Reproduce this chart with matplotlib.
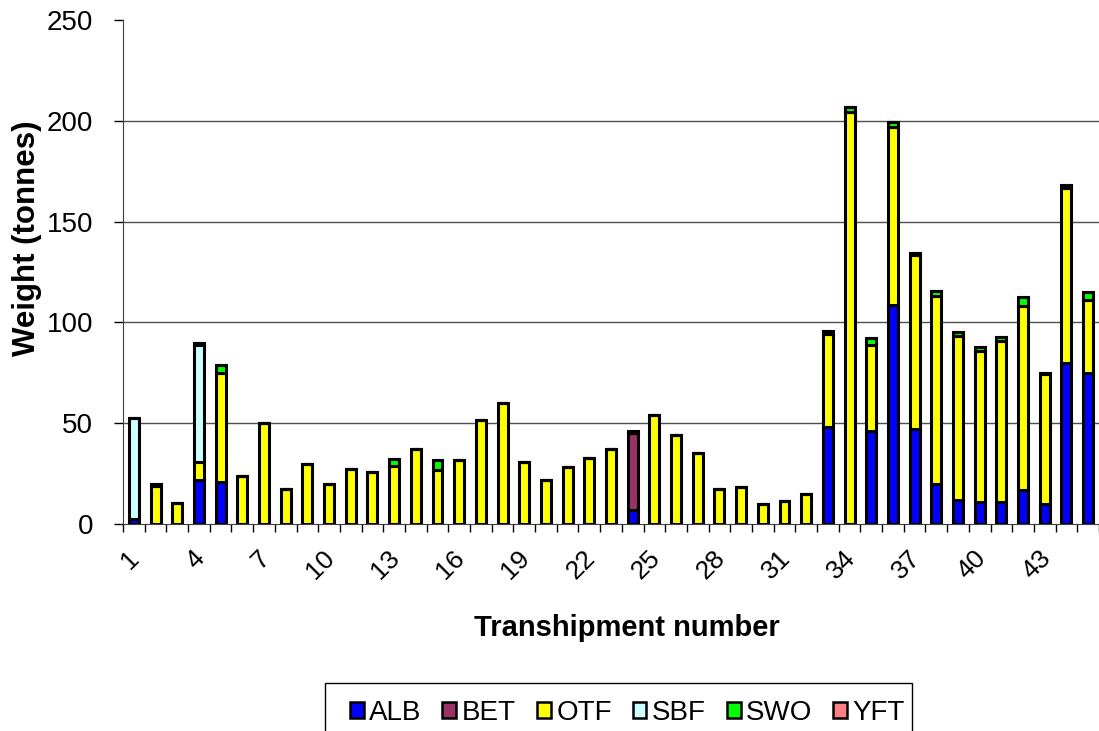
import numpy as np
import matplotlib
matplotlib.use("Agg")
import matplotlib.pyplot as plt
from matplotlib.patches import Patch, Rectangle

plt.rcParams['font.family'] = ['Liberation Sans', 'DejaVu Sans']

# transhipment numbers 1..45
shipments = list(range(1, 46))
tick_labels = [str(k) for k in range(1, 46, 3)]

species = ['ALB', 'BET', 'OTF', 'SBF', 'SWO', 'YFT']

ALB = [2.5, 0, 0, 22, 21, 0, 0, 0, 0, 0,
       0, 0, 0, 0, 0, 0, 0, 0, 0, 0,
       0, 0, 0, 7, 0, 0, 0, 0, 0, 0,
       0, 0, 48, 0, 46, 108.5, 47, 20, 11.7, 11,
       11, 17, 10, 80, 75]
BET = [0, 0, 0, 0, 0, 0, 0, 0, 0, 0,
       0, 0, 0, 0, 0, 0, 0, 0, 0, 0,
       0, 0, 0, 38, 0, 0, 0, 0, 0, 0,
       0, 0, 0, 0, 0, 0, 0, 0, 0, 0,
       0, 0, 0, 0, 0]
OTF = [0, 19, 10.5, 9, 54, 24, 50, 17.4, 30, 20,
       27.4, 25.7, 29, 37.3, 27, 31.5, 51.8, 60, 30.9, 21.6,
       28.5, 32.5, 37.3, 0, 54, 43.9, 35, 17.5, 18.5, 9.7,
       11.3, 15, 46, 204.5, 43, 88.5, 86.5, 93, 81.5, 74.7,
       80, 91.3, 64.5, 86.5, 36]
SBF = [50, 0, 0, 58, 0, 0, 0, 0, 0, 0,
       0, 0, 0, 0, 0, 0, 0, 0, 0, 0,
       0, 0, 0, 0, 0, 0, 0, 0, 0, 0,
       0, 0, 0, 0, 0, 0, 0, 0, 0, 0,
       0, 0, 0, 0, 0]
SWO = [0, 1, 0, 1, 4, 0, 0, 0, 0, 0,
       0, 0, 3.3, 0, 4.5, 0, 0, 0, 0, 0,
       0, 0, 0, 0, 0, 0, 0, 0, 0, 0,
       0, 0, 1.5, 2.5, 3.5, 2.5, 1, 2.5, 2, 2,
       2, 4.3, 0.5, 1.5, 4]
YFT = [0, 0, 0, 0, 0, 0, 0, 0, 0, 0,
       0, 0, 0, 0, 0, 0, 0, 0, 0, 0,
       0, 0, 0, 1, 0, 0, 0, 0, 0, 0,
       0, 0, 0, 0, 0, 0, 0, 0, 0, 0,
       0, 0, 0, 0, 0]

colors = ['#0000FF', '#993366', '#FFFF00', '#CCFFFF', '#00FF00', '#FF8080']

fig = plt.figure(figsize=(10.99, 7.31), dpi=100)
ax = fig.add_axes([123 / 1099, 1 - 524 / 731, 1 - 123 / 1099, 504 / 731])

x = np.array(shipments)
bottom = np.zeros(len(x))
for name, vals, col in zip(species, [ALB, BET, OTF, SBF, SWO, YFT], colors):
    v = np.array(vals, dtype=float)
    ax.bar(x, v, width=0.46, bottom=bottom, color=col, edgecolor='black',
           linewidth=2.2, zorder=3)
    bottom += v

# gridlines
for g in [50, 100, 150, 200]:
    ax.axhline(g, color='#505050', linewidth=1.0, zorder=1)

ax.set_ylim(0, 250)
ax.set_xlim(0.5, 45.18)
ax.set_yticks([0, 50, 100, 150, 200, 250])
ax.tick_params(axis='y', labelsize=20, length=6.5, width=1.0, direction='out', pad=15)

# category boundaries as ticks, labels every 3rd
ax.set_xticks(np.arange(0.5, 46, 1.0))
ax.set_xticklabels([])
ax.tick_params(axis='x', length=6, width=1.0, direction='out')
for k, lab in zip(range(1, 46, 3), tick_labels):
    ax.text(k - 0.3, -11, lab, rotation=45, ha='right', va='top',
            rotation_mode='anchor', fontsize=19, transform=ax.transData)

ax.spines['top'].set_visible(False)
ax.spines['right'].set_visible(False)
ax.spines['left'].set_color('#404040')
ax.spines['bottom'].set_color('#404040')

fig.text(27 / 1099, 1 - 238 / 731, 'Weight (tonnes)', fontsize=22.5,
         fontweight='bold', rotation=90, ha='center', va='center')
fig.text(627 / 1099, 1 - 628 / 731, 'Transhipment number', fontsize=21,
         fontweight='bold', ha='center', va='center')

# legend box (runs off the bottom edge like the original)
fig.patches.append(Rectangle((325 / 1099, -0.05), 587 / 1099, 0.05 + 48 / 731,
                             transform=fig.transFigure, facecolor='white',
                             edgecolor='black', linewidth=1.0, zorder=1))
handles = [Patch(facecolor=c, edgecolor='black', linewidth=1.8) for c in colors]
leg = fig.legend(handles, species, loc='center', ncol=6,
                 bbox_to_anchor=(627.5 / 1099, 1 - 713 / 731), fontsize=20,
                 frameon=False, handlelength=0.5, handleheight=0.5,
                 handletextpad=0.2, columnspacing=0.75, borderpad=0,
                 borderaxespad=0)
leg.set_zorder(2)

fig.savefig('out.png', dpi=100)
